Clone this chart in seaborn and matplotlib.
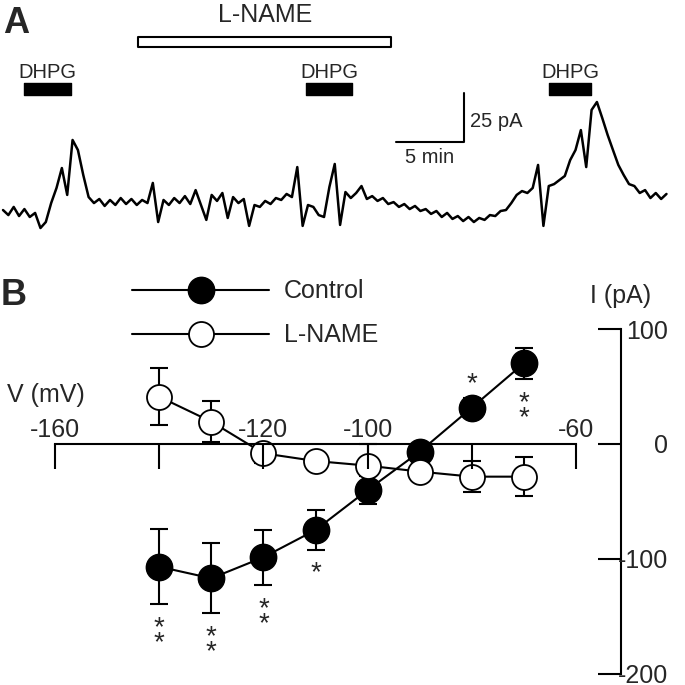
import numpy as np
import matplotlib
matplotlib.use("Agg")
import matplotlib.pyplot as plt
import seaborn as sns

# ---- panel A : holding current trace (pA), one sample every 0.39 min ----
trace_dt = 0.39
trace_pa = [
    -2.6, -5.2, -1.0, -5.7, -2.1, -6.2, -4.1, -11.9, -8.8, 1.0,
    8.8, 19.1, 5.2, 33.6, 28.4, 15.5, 4.1, 1.0, 3.1, -0.5,
    2.6, 0.0, 3.6, 0.5, 3.1, 0.0, 2.6, 1.0, 11.4, -8.8,
    2.6, 0.0, 3.6, 1.0, 4.6, 0.5, 7.7, 0.0, -7.7, 5.2,
    2.1, 6.2, -6.7, 4.1, 1.0, 3.1, -10.8, 0.0, -1.0, 2.1,
    0.5, 3.6, 2.6, 5.7, 4.1, 19.6, -10.8, 0.0, -1.0, -5.2,
    -6.2, 9.3, 21.2, -10.3, 6.7, 3.6, 6.2, 9.8, 3.1, 4.6,
    2.1, 3.6, 0.5, 1.5, -1.0, 0.5, -2.1, -0.5, -3.1, -2.1,
    -4.6, -3.1, -6.2, -4.1, -7.2, -5.7, -8.3, -6.2, -8.8, -6.7,
    -7.7, -5.2, -5.7, -3.1, -2.6, 1.0, 5.2, 7.2, 6.2, 8.8,
    20.7, -10.8, 9.8, 10.8, 12.9, 15.0, 23.2, 28.4, 38.7, 19.6,
    49.1, 53.2, 44.9, 36.2, 28.4, 20.7, 15.5, 10.8, 9.8, 6.2,
    7.7, 3.6, 6.2, 3.1, 5.7,
]
dhpg_on = [1.55, 22.06, 39.82]
dhpg_off = [4.93, 25.46, 42.86]
lname_on = 9.86
lname_off = 28.28
# scale bar: 5 min x 25 pA, corner at (sb_t, sb_i)
sb_t, sb_i = 33.62, 32.7
sb_min, sb_pa = 5, 25

# ---- panel B : I-V relation ----
volt = [-140, -130, -120, -110, -100, -90, -80, -70]
ctrl_i = [-106.7, -116.8, -98.5, -74.8, -40.0, -6.7, 31.6, 70.2]
ctrl_err = [32.5, 30.4, 23.9, 17.0, 12.0, 5.0, 8.0, 13.6]
lname_i = [41.1, 19.4, -8.1, -14.8, -18.8, -24.0, -28.4, -28.4]
lname_err = [24.8, 17.8, 8.0, 5.0, 19.0, 6.0, 13.3, 17.0]
ctrl_sig = ["**", "**", "**", "*", "", "", "*", "**"]
sig_above = [False, False, False, False, False, False, True, False]
v_ticks = [-160, -140, -120, -100, -80, -60]
v_labels = ["-160", "", "-120", "-100", "", "-60"]
i_ticks = [100, 0, -100, -200]

sns.set_theme(style="white")
plt.rcParams["font.family"] = ["Liberation Sans", "DejaVu Sans"]

W = 685.0
PX = 0.72  # points per pixel at dpi 100
fig = plt.figure(figsize=(6.85, 6.85), dpi=100)

# ---------------- A ----------------
ax_a = fig.add_axes([0, 1 - 255 / W, 1, 255 / W])
t = np.arange(len(trace_pa)) * trace_dt
sns.lineplot(x=t, y=trace_pa, color="black", lw=1.8, errorbar=None, ax=ax_a)
ax_a.set_xlim(-0.219, 49.71)
ax_a.set_ylim(-25.83, 105.9)
ax_a.axis("off")

for on, off in zip(dhpg_on, dhpg_off):
    ax_a.broken_barh([(on, off - on)], (56.8, 6.1), facecolor="black", edgecolor="black")
    ax_a.text((on + off) / 2, 65.6, "DHPG", ha="center", va="baseline", fontsize=14.5)
ax_a.broken_barh([(lname_on, lname_off - lname_on)], (81.8, 5.1),
                 facecolor="white", edgecolor="black", lw=1.5)
ax_a.text((lname_on + lname_off) / 2, 94.5, "L-NAME", ha="center", va="baseline", fontsize=18)

ax_a.plot([sb_t - sb_min, sb_t, sb_t], [sb_i, sb_i, sb_i + sb_pa], color="black", lw=1.5)
ax_a.text(sb_t + 0.42, 40.4, "25 pA", ha="left", va="baseline", fontsize=14.5)
ax_a.text(sb_t - sb_min / 2, 21.8, "5 min", ha="center", va="baseline", fontsize=14.5)

fig.text(3 / W, 1 - 6 / W, "A", ha="left", va="top", fontsize=26, fontweight="bold")

# ---------------- B ----------------
ax_b = fig.add_axes([0, 0, 1, 430 / W])
ax_b.set_facecolor("none")

ax_b.errorbar(volt, ctrl_i, yerr=ctrl_err, fmt="none", ecolor="black",
              elinewidth=1.5, capsize=6.5, capthick=1.5, zorder=2)
sns.lineplot(x=volt, y=ctrl_i, color="black", lw=1.5, marker="o", markersize=19,
             markerfacecolor="black", markeredgecolor="black", markeredgewidth=1,
             label="Control", errorbar=None, ax=ax_b, zorder=3)
ax_b.errorbar(volt, lname_i, yerr=lname_err, fmt="none", ecolor="black",
              elinewidth=1.5, capsize=6.5, capthick=1.5, zorder=4)
sns.lineplot(x=volt, y=lname_i, color="black", lw=1.5, marker="o", markersize=18,
             markerfacecolor="white", markeredgecolor="black", markeredgewidth=1.3,
             label="L-NAME", errorbar=None, ax=ax_b, zorder=5)

# significance stars (stacked vertically)
for v, i, e, s, up in zip(volt, ctrl_i, ctrl_err, ctrl_sig, sig_above):
    if not s:
        continue
    if up:
        ax_b.annotate(s, xy=(v, i), xytext=(0, (31 - 8) * PX), textcoords="offset points",
                      ha="center", va="center", fontsize=20)
    else:
        ax_b.annotate("\n".join(s), xy=(v, i - e), xytext=(0, -11 * PX),
                      textcoords="offset points", ha="center", va="top",
                      fontsize=20, linespacing=0.46)

ax_b.set_xlim(-170.56, -39.08)
ax_b.set_ylim(-209.57, 164.35)
ax_b.set_xlabel("")
ax_b.set_ylabel("")

for side in ["left", "bottom"]:
    ax_b.spines[side].set_visible(False)
ax_b.spines["top"].set_position(("data", 0))
ax_b.spines["top"].set_bounds(-160, -60)
ax_b.spines["right"].set_position(("data", -51.36))
ax_b.spines["right"].set_bounds(-200, 100)
for side in ["top", "right"]:
    ax_b.spines[side].set_linewidth(1.5)
    ax_b.spines[side].set_color("black")
    ax_b.spines[side].set_zorder(10)

ax_b.xaxis.set_ticks_position("top")
ax_b.set_xticks(v_ticks)
ax_b.set_xticklabels(v_labels)
ax_b.tick_params(axis="x", direction="in", length=18, width=1.5, color="black",
                 labelsize=18, pad=1.5, top=True, bottom=False)
ax_b.yaxis.set_ticks_position("right")
ax_b.set_yticks(i_ticks)
ax_b.set_yticklabels([str(v) for v in i_ticks])
ax_b.tick_params(axis="y", direction="in", length=16.5, width=1.5, color="black",
                 labelsize=18, pad=47 * PX, right=True, left=False)
for lab in ax_b.get_yticklabels():
    lab.set_horizontalalignment("right")
ax_b.xaxis.set_zorder(10)
ax_b.yaxis.set_zorder(10)

handles, labels = ax_b.get_legend_handles_labels()
ax_b.legend(handles, labels, loc="center left", bbox_to_anchor=(132 / W, 1 - 313.4 / W),
            bbox_transform=fig.transFigure, frameon=False, fontsize=18,
            handlelength=5.48, handletextpad=0.6, labelspacing=0.8,
            borderpad=0, borderaxespad=0, numpoints=1)

fig.text(7 / W, 1 - 401.7 / W, "V (mV)", ha="left", va="baseline", fontsize=18)
fig.text(621 / W, 1 - 303.3 / W, "I (pA)", ha="center", va="baseline", fontsize=18)
fig.text(1 / W, 1 - 278 / W, "B", ha="left", va="top", fontsize=26, fontweight="bold")

fig.savefig("out.png", dpi=100)
